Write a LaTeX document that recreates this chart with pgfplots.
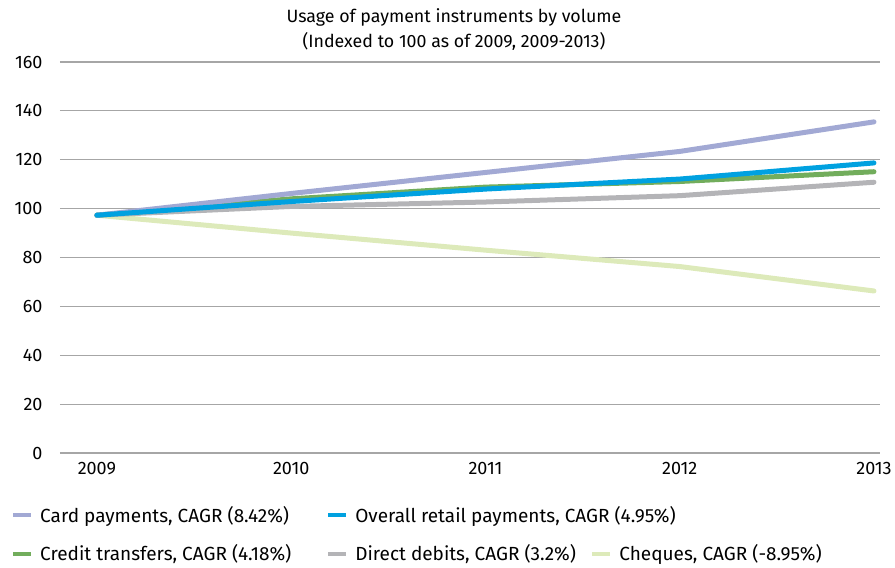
\documentclass[border=0pt]{standalone}
\usepackage{pgfplots}
\pgfplotsset{compat=1.18}
\usepackage{fontspec}
\setmainfont{Fira Sans}
\definecolor{cardc}{HTML}{A2A9D4}
\definecolor{overc}{HTML}{00A1E0}
\definecolor{credc}{HTML}{72AD5C}
\definecolor{dirc}{HTML}{B4B4B7}
\definecolor{cheqc}{HTML}{DDEABA}
\definecolor{gridc}{HTML}{A6A6A6}
\begin{document}
\begin{tikzpicture}
\path[use as bounding box] (0,0) rectangle (895pt,568pt);
\node[font=\fontsize{17.8}{25}\selectfont, align=center] at (454pt,538pt) {Usage of payment instruments by volume\\(Indexed to 100 as of 2009, 2009-2013)};
\begin{axis}[at={(60pt,115pt)}, anchor=south west, scale only axis,
  width=820pt, height=391pt,
  xmin=2008.81, xmax=2013.031, ymin=0, ymax=160,
  xtick={2009,2010,2011,2012,2013}, ytick={0,20,...,160},
  /pgf/number format/assume math mode=true,
  xticklabel style={/pgf/number format/1000 sep={}, font=\fontsize{18}{20}\selectfont, yshift=-6pt},
  yticklabel style={font=\fontsize{18}{20}\selectfont, xshift=-14pt},
  axis line style={draw=none}, tick style={draw=none},
  ymajorgrids, grid style={gridc, line width=1.2pt},
  every axis plot/.append style={line width=5pt, line cap=round, line join=round},
  legend columns=3,
  legend image code/.code={\draw[#1, line width=4pt, line cap=butt] (0pt,0pt) -- (18pt,0pt);},
  legend style={draw=none, fill=none, at={(0,0)}, anchor=north west, xshift=-52pt, yshift=-49pt,
    font=\fontsize{19}{21}\selectfont, row sep=17pt,
    /tikz/every odd column/.append style={column sep=5pt},
    /tikz/every even column/.append style={column sep=33pt}},
  legend cell align=left,
]
\addplot[cheqc, forget plot] coordinates {(2009,97.3) (2010,90.0) (2011,83.0) (2012,76.3) (2013,66.3)};
\addplot[dirc, forget plot] coordinates {(2009,97.3) (2010,100.9) (2011,102.7) (2012,105.3) (2013,110.8)};
\addplot[credc, forget plot] coordinates {(2009,97.3) (2010,104.0) (2011,108.8) (2012,111.1) (2013,115.1)};
\addplot[cardc, forget plot] coordinates {(2009,97.3) (2010,106.2) (2011,114.8) (2012,123.4) (2013,135.5)};
\addplot[overc, forget plot] coordinates {(2009,97.3) (2010,102.9) (2011,108.0) (2012,112.1) (2013,118.7)};
\addlegendimage{cardc}
\addlegendentry{Card payments, CAGR (8.42\%)}
\addlegendimage{overc}
\addlegendentry{\makebox[0pt][l]{Overall retail payments, CAGR (4.95\%)}}
\addlegendimage{empty legend}
\addlegendentry{}
\addlegendimage{credc}
\addlegendentry{Credit transfers, CAGR (4.18\%)}
\addlegendimage{dirc}
\addlegendentry{\makebox[200pt][l]{Direct debits, CAGR (3.2\%)}}
\addlegendimage{cheqc}
\addlegendentry{Cheques, CAGR (-8.95\%)}
\end{axis}
\end{tikzpicture}
\end{document}
